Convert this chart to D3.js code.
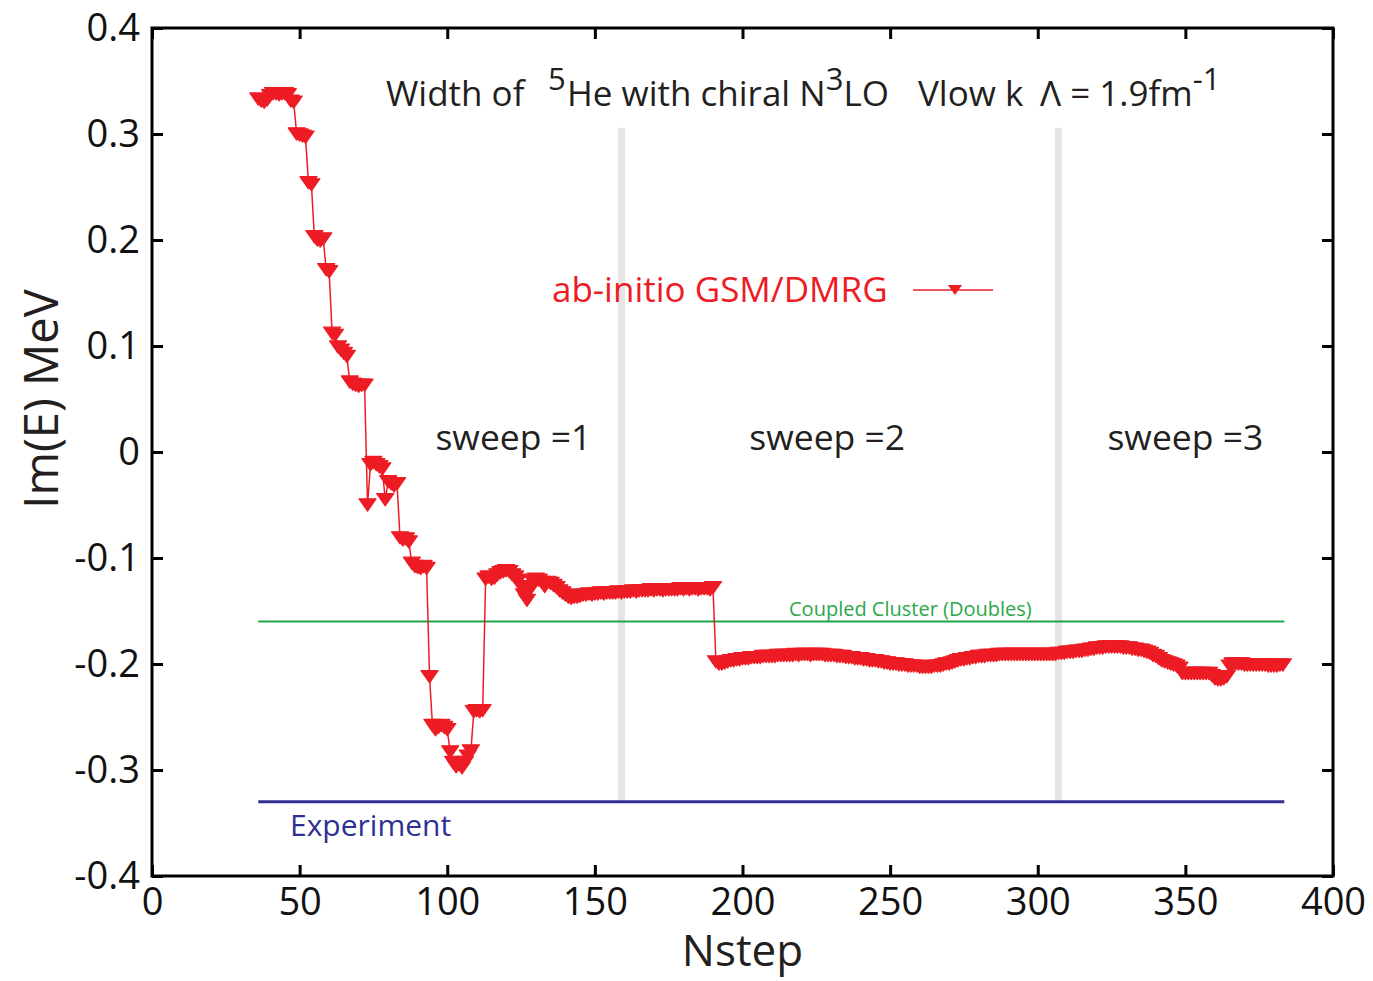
<!DOCTYPE html>
<html>
<head>
<meta charset="utf-8">
<script src="https://cdn.jsdelivr.net/npm/d3@7"></script>
<style>
  html, body { margin: 0; padding: 0; background: #fff; }
  svg { display: block; font-family: "Open Sans", "Noto Sans", sans-serif; }
</style>
</head>
<body>
<div id="chart"></div>
<script>
// Im(E) per DMRG step, starting at Nstep = 36
const nstepStart = 36;
const imE = [
  0.333, 0.331, 0.330, 0.332, 0.336, 0.338, 0.338, 0.337, 0.338, 0.338,
  0.337, 0.331, 0.330, 0.300, 0.299, 0.298, 0.297, 0.254, 0.252, 0.203,
  0.200, 0.199, 0.201, 0.172, 0.170, 0.112, 0.110, 0.099, 0.096, 0.093,
  0.090, 0.066, 0.064, 0.063, 0.062, 0.063, 0.063, -0.050, -0.012, -0.010,
  -0.012, -0.014, -0.016, -0.045, -0.028, -0.030, -0.032, -0.030, -0.081, -0.083,
  -0.082, -0.085, -0.105, -0.108, -0.109, -0.110, -0.108, -0.110, -0.212, -0.258,
  -0.262, -0.260, -0.258, -0.260, -0.262, -0.283, -0.293, -0.297, -0.295, -0.298,
  -0.293, -0.287, -0.282, -0.245, -0.244, -0.245, -0.244, -0.120, -0.118, -0.120,
  -0.119, -0.116, -0.114, -0.113, -0.112, -0.113, -0.116, -0.118, -0.121, -0.127,
  -0.135, -0.140, -0.130, -0.122, -0.120, -0.121, -0.123, -0.127, -0.123, -0.124,
  -0.126, -0.128, -0.131, -0.133, -0.135, -0.137, -0.138, -0.137, -0.137, -0.136,
  -0.135, -0.135, -0.134, -0.135, -0.134, -0.134, -0.133, -0.134, -0.133, -0.133,
  -0.133, -0.133, -0.132, -0.133, -0.132, -0.132, -0.132, -0.131, -0.132, -0.131,
  -0.131, -0.131, -0.131, -0.130, -0.131, -0.130, -0.130, -0.131, -0.130, -0.130,
  -0.130, -0.130, -0.130, -0.129, -0.130, -0.129, -0.130, -0.129, -0.129, -0.130,
  -0.129, -0.129, -0.129, -0.130, -0.128,
  -0.198, -0.200, -0.200, -0.199, -0.198, -0.197, -0.197, -0.196, -0.196, -0.195,
  -0.195, -0.195, -0.194, -0.194, -0.194, -0.194, -0.193, -0.193, -0.193, -0.193,
  -0.193, -0.192, -0.192, -0.192, -0.192, -0.192, -0.192, -0.191, -0.192, -0.191,
  -0.191, -0.191, -0.192, -0.191, -0.191, -0.191, -0.191, -0.192, -0.192, -0.192,
  -0.192, -0.193, -0.193, -0.193, -0.194, -0.194, -0.194, -0.195, -0.195, -0.195,
  -0.196, -0.196, -0.197, -0.197, -0.197, -0.198, -0.198, -0.199, -0.199, -0.200,
  -0.200, -0.200, -0.201, -0.201, -0.201, -0.202, -0.202, -0.202, -0.202, -0.203,
  -0.203, -0.203, -0.203, -0.203, -0.202, -0.202, -0.202, -0.201, -0.200, -0.200,
  -0.199, -0.198, -0.197, -0.196, -0.196, -0.195, -0.195, -0.194, -0.194, -0.193,
  -0.193, -0.193, -0.192, -0.192, -0.192, -0.192, -0.191, -0.191, -0.191, -0.191,
  -0.191, -0.191, -0.191, -0.191, -0.191, -0.191, -0.191, -0.191, -0.191, -0.191,
  -0.191, -0.191, -0.191, -0.191, -0.191, -0.191, -0.190, -0.190, -0.190, -0.189,
  -0.189, -0.189, -0.188, -0.188, -0.188, -0.187, -0.187, -0.186, -0.186, -0.185,
  -0.185, -0.185, -0.184, -0.184, -0.184, -0.184, -0.184, -0.184, -0.185, -0.185,
  -0.185, -0.186, -0.186, -0.187, -0.187, -0.188, -0.189, -0.190, -0.192, -0.193,
  -0.195, -0.197, -0.198, -0.199, -0.200, -0.201, -0.202, -0.204, -0.209, -0.209,
  -0.209, -0.209, -0.209, -0.209, -0.209, -0.209, -0.209, -0.209, -0.211, -0.214,
  -0.215, -0.215, -0.214, -0.212, -0.202, -0.200, -0.200, -0.200, -0.200, -0.201,
  -0.201, -0.201, -0.201, -0.201, -0.201, -0.201, -0.201, -0.202, -0.202, -0.202,
  -0.202, -0.201, -0.201
];
const nstep = d3.range(nstepStart, nstepStart + imE.length);

const xTicks = [0, 50, 100, 150, 200, 250, 300, 350, 400];
const yTicks = [-0.4, -0.3, -0.2, -0.1, 0, 0.1, 0.2, 0.3, 0.4];
const yTickLabels = ["-0.4", "-0.3", "-0.2", "-0.1", "0", "0.1", "0.2", "0.3", "0.4"];

const sweepEdges = [159, 307];
const sweepNames = ["sweep =1", "sweep =2", "sweep =3"];
const coupledCluster = -0.16;
const experiment = -0.33;
const refSpan = [36, 383.5];

const RED = "#ed1c24";
const W = 1373, H = 981;
const margin = { left: 152, right: 40, top: 28, bottom: 105 };

const svg = d3.select("#chart").append("svg")
  .attr("width", W).attr("height", H);
svg.append("rect").attr("width", W).attr("height", H).attr("fill", "#fff");

const x = d3.scaleLinear().domain([0, 400]).range([margin.left, W - margin.right]);
const y = d3.scaleLinear().domain([-0.4, 0.4]).range([H - margin.bottom, margin.top]);

// grey sweep separators
svg.selectAll("line.sep")
  .data(sweepEdges)
  .enter().append("line")
  .attr("class", "sep")
  .attr("x1", d => x(d)).attr("x2", d => x(d))
  .attr("y1", y(0.306)).attr("y2", y(experiment))
  .attr("stroke", "#e5e5e5").attr("stroke-width", 7);

// reference lines
svg.append("line")
  .attr("x1", x(refSpan[0])).attr("x2", x(refSpan[1]))
  .attr("y1", y(coupledCluster)).attr("y2", y(coupledCluster))
  .attr("stroke", "#1fa64a").attr("stroke-width", 2);
svg.append("line")
  .attr("x1", x(refSpan[0])).attr("x2", x(refSpan[1]))
  .attr("y1", y(experiment)).attr("y2", y(experiment))
  .attr("stroke", "#2e3192").attr("stroke-width", 3);

// axes, ticks pointing inward
const tickStyle = g => {
  g.select(".domain").remove();
  g.selectAll(".tick line").attr("stroke", "#000").attr("stroke-width", 3);
  g.selectAll(".tick text").attr("fill", "#111").attr("font-size", 38);
};
svg.append("g")
  .attr("transform", `translate(0,${y(-0.4)})`)
  .call(d3.axisBottom(x).tickValues(xTicks).tickSize(-11).tickPadding(12).tickFormat(d3.format("d")))
  .call(tickStyle)
  .attr("font-family", null);
svg.append("g")
  .attr("transform", `translate(0,${y(0.4)})`)
  .call(d3.axisTop(x).tickValues(xTicks).tickSize(-11).tickFormat(""))
  .call(tickStyle);
svg.append("g")
  .attr("transform", `translate(${x(0)},0)`)
  .call(d3.axisLeft(y).tickValues(yTicks).tickSize(-11).tickPadding(12)
    .tickFormat((d, i) => yTickLabels[i]))
  .call(tickStyle)
  .attr("font-family", null);
svg.append("g")
  .attr("transform", `translate(${x(400)},0)`)
  .call(d3.axisRight(y).tickValues(yTicks).tickSize(-11).tickFormat(""))
  .call(tickStyle);

svg.append("rect")
  .attr("x", x(0)).attr("y", y(0.4))
  .attr("width", x(400) - x(0)).attr("height", y(-0.4) - y(0.4))
  .attr("fill", "none").attr("stroke", "#000").attr("stroke-width", 3);

// downward triangle marker
const triDown = {
  draw(ctx, size) {
    const w = Math.sqrt(size) / 2, h = w * 0.72;
    ctx.moveTo(-w, -h);
    ctx.lineTo(w, -h);
    ctx.lineTo(0, h);
    ctx.closePath();
  }
};
const marker = d3.symbol().type(triDown).size(290);

const pts = nstep.map((n, i) => [n, imE[i]]);
svg.append("path")
  .datum(pts)
  .attr("fill", "none").attr("stroke", RED).attr("stroke-width", 1.5)
  .attr("d", d3.line().x(d => x(d[0])).y(d => y(d[1])));
svg.append("g").selectAll("path")
  .data(pts)
  .enter().append("path")
  .attr("transform", d => `translate(${x(d[0])},${y(d[1])})`)
  .attr("d", marker)
  .attr("fill", RED)
  .attr("stroke", RED).attr("stroke-width", 1.2).attr("stroke-linejoin", "round");

// texts
const title = svg.append("text")
  .attr("x", 386).attr("y", 106)
  .attr("font-size", 35).attr("fill", "#231f20");
title.append("tspan").text("Width of");
title.append("tspan").attr("x", 548).attr("dy", -16).attr("font-size", 31).text("5");
title.append("tspan").attr("x", 567).attr("dy", 16).text("He with chiral N");
title.append("tspan").attr("dy", -16).attr("font-size", 31).text("3");
title.append("tspan").attr("dy", 16).text("LO");
title.append("tspan").attr("x", 918).text("Vlow k");
title.append("tspan").attr("x", 1040).text("Λ = 1.9fm");
title.append("tspan").attr("dy", -16).attr("font-size", 31).text("-1");

const sweepCenters = [122.4, 228.7, 350];
svg.selectAll("text.sweep")
  .data(sweepNames)
  .enter().append("text")
  .attr("class", "sweep")
  .attr("x", (d, i) => x(sweepCenters[i]))
  .attr("y", y(0) - 2)
  .attr("text-anchor", "middle")
  .attr("font-size", 35.5).attr("fill", "#231f20")
  .text(d => d);

// legend
svg.append("text")
  .attr("x", 552).attr("y", 302)
  .attr("font-size", 35).attr("fill", RED)
  .text("ab-initio GSM/DMRG");
svg.append("line")
  .attr("x1", 913).attr("x2", 993).attr("y1", 290).attr("y2", 290)
  .attr("stroke", RED).attr("stroke-width", 1.5);
svg.append("path")
  .attr("transform", "translate(955,290)")
  .attr("d", d3.symbol().type(triDown).size(200))
  .attr("fill", RED);

svg.append("text")
  .attr("x", 789).attr("y", 616)
  .attr("font-size", 20).attr("fill", "#2aa84a")
  .text("Coupled Cluster (Doubles)");
svg.append("text")
  .attr("x", 290).attr("y", 836)
  .attr("font-size", 30).attr("fill", "#2e3192")
  .text("Experiment");

// axis titles
svg.append("text")
  .attr("x", x(200)).attr("y", 966)
  .attr("text-anchor", "middle")
  .attr("font-size", 44).attr("fill", "#231f20")
  .text("Nstep");
svg.append("text")
  .attr("transform", `translate(58,${y(0.05)}) rotate(-90)`)
  .attr("text-anchor", "middle")
  .attr("font-size", 47).attr("fill", "#231f20")
  .text("Im(E) MeV");
</script>
</body>
</html>
